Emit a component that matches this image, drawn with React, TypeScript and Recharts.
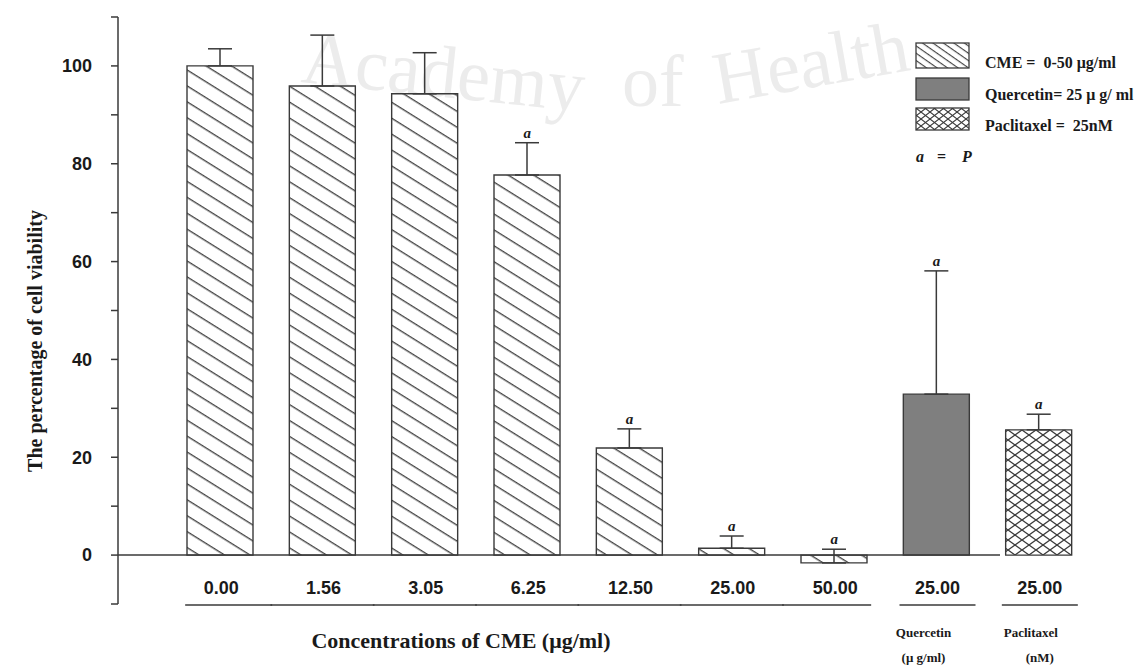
import React from 'react';
import {
  ComposedChart, Bar, Cell, ErrorBar, Line, LabelList, XAxis, YAxis, ReferenceLine, Legend,
} from 'recharts';

const CATEGORIES = ['0.00', '1.56', '3.05', '6.25', '12.50', '25.00', '50.00', '25.00', '25.00'];
const GROUPS = ['cme', 'cme', 'cme', 'cme', 'cme', 'cme', 'cme', 'quercetin', 'paclitaxel'];
const VIABILITY = [100, 95.9, 94.3, 77.7, 21.9, 1.4, -1.6, 32.9, 25.6];
const ERROR_UP = [3.5, 10.4, 8.4, 6.6, 3.9, 2.5, 2.8, 25.2, 3.2];
const SIGNIFICANT = [false, false, false, true, true, true, true, true, true];
const Y_TICKS = [-10, 0, 10, 20, 30, 40, 50, 60, 70, 80, 90, 100, 110];
const Y_LABELED = [0, 20, 40, 60, 80, 100];

const LEGEND_ITEMS = [
  { group: 'cme', text: 'CME =  0-50 μg/ml' },
  { group: 'quercetin', text: 'Quercetin= 25 μ g/ ml' },
  { group: 'paclitaxel', text: 'Paclitaxel =  25nM' },
];

const FILLS: Record<string, string> = {
  cme: 'url(#hatchCME)',
  quercetin: '#7f7f7f',
  paclitaxel: 'url(#crossPac)',
};
const LEGEND_FILLS: Record<string, string> = {
  cme: 'url(#hatchCMEsm)',
  quercetin: '#7f7f7f',
  paclitaxel: 'url(#crossPacSm)',
};

const data = CATEGORIES.map((c, i) => ({
  key: `k${i}`,
  label: c,
  group: GROUPS[i],
  value: VIABILITY[i],
  err: [0, ERROR_UP[i]],
  sig: SIGNIFICANT[i] ? VIABILITY[i] + ERROR_UP[i] : null,
}));

const SERIF = '"Liberation Serif", "Times New Roman", serif';
const SANS = '"Liberation Sans", Arial, sans-serif';
const INK = '#1a1a1a';
const LINE = '#3a3a3a';

function CatTick({ x, y, index }: { x?: number; y?: number; index?: number }) {
  const i = index ?? 0;
  const cx = x ?? 0;
  const cy = y ?? 0;
  const g = GROUPS[i];
  let x1 = cx - 52;
  let x2 = cx + 52;
  if (g === 'cme' && i === 0) x1 = cx - 35;
  if (g === 'cme' && i === 6) x2 = cx + 37;
  if (g !== 'cme') { x1 = cx - 37; x2 = cx + 39; }
  return (
    <g>
      <text x={cx + 1} y={cy - 10} textAnchor="middle" fill={INK}
        style={{ fontFamily: SANS, fontWeight: 700, fontSize: 18 }}>
        {CATEGORIES[i]}
      </text>
      <line x1={x1} x2={x2} y1={cy + 1} y2={cy + 1} stroke={LINE} strokeWidth={1.5} />
      {g === 'quercetin' && (
        <text x={cx - 13} y={cy + 33} textAnchor="middle" fill={INK}
          style={{ fontFamily: SERIF, fontWeight: 700, fontSize: 13 }}>
          <tspan x={cx - 13}>Quercetin</tspan>
          <tspan x={cx - 13} dy={25}>(μ g/ml)</tspan>
        </text>
      )}
      {g === 'paclitaxel' && (
        <text x={cx - 8} y={cy + 33} textAnchor="middle" fill={INK}
          style={{ fontFamily: SERIF, fontWeight: 700, fontSize: 13 }}>
          <tspan x={cx - 8}>Paclitaxel</tspan>
          <tspan x={cx + 1} dy={25}>(nM)</tspan>
        </text>
      )}
    </g>
  );
}

const renderSig = (props: { x?: number | string; y?: number | string; value?: unknown }) => {
  if (props.value === null || props.value === undefined) return null;
  return (
    <text x={Number(props.x)} y={Number(props.y) - 5} textAnchor="middle" fill={INK}
      style={{ fontFamily: SERIF, fontStyle: 'italic', fontWeight: 700, fontSize: 15 }}>
      a
    </text>
  );
};

function LegendBox() {
  const boxY = [8, 43, 73];
  const boxH = [25, 22, 22];
  const textY = [33, 65, 96];
  const italic = { fontFamily: SERIF, fontStyle: 'italic' as const, fontWeight: 700, fontSize: 16 };
  return (
    <svg width={229} height={135} style={{ display: 'block' }}>
      {LEGEND_ITEMS.map((it, i) => (
        <g key={it.group}>
          <rect x={4} y={boxY[i]} width={53} height={boxH[i]} fill={LEGEND_FILLS[it.group]}
            stroke={LINE} strokeWidth={1.3} />
          <text x={73} y={textY[i]} fill={INK} xmlSpace="preserve"
            style={{ fontFamily: SERIF, fontWeight: 700, fontSize: 16, whiteSpace: 'pre' }}>
            {it.text}
          </text>
        </g>
      ))}
      <text y={127} fill={INK} style={italic}>
        <tspan x={4}>a</tspan>
        <tspan x={25} style={{ fontStyle: 'normal' }}>=</tspan>
        <tspan x={50}>P</tspan>
      </text>
    </svg>
  );
}

export default function App() {
  const wm = { fontFamily: SERIF, fontSize: 74 };
  return (
    <div style={{ position: 'absolute', left: 0, top: 0, width: 1141, height: 668, background: '#fff' }}>
      <svg width={1141} height={668} style={{ position: 'absolute', left: 0, top: 0 }}>
        <defs>
          <pattern id="hatchCME" patternUnits="userSpaceOnUse" width={10} height={13.5}
            patternTransform="rotate(32)">
            <line x1={0} x2={10} y1={0.7} y2={0.7} stroke={LINE} strokeWidth={1.3} />
          </pattern>
          <pattern id="hatchCMEsm" patternUnits="userSpaceOnUse" width={10} height={6}
            patternTransform="rotate(35)">
            <line x1={0} x2={10} y1={0.6} y2={0.6} stroke={LINE} strokeWidth={1.1} />
          </pattern>
          <pattern id="crossPac" patternUnits="userSpaceOnUse" width={14} height={10}>
            <line x1={0} y1={0} x2={14} y2={10} stroke={LINE} strokeWidth={1.3} />
            <line x1={0} y1={10} x2={14} y2={0} stroke={LINE} strokeWidth={1.3} />
          </pattern>
          <pattern id="crossPacSm" patternUnits="userSpaceOnUse" width={9} height={7}>
            <line x1={0} y1={0} x2={9} y2={7} stroke={LINE} strokeWidth={1.1} />
            <line x1={0} y1={7} x2={9} y2={0} stroke={LINE} strokeWidth={1.1} />
          </pattern>
        </defs>
        <text x={300} y={82} fill="#ececec" style={wm} transform="rotate(6 300 82)">Academy</text>
        <text x={622} y={106} fill="#ececec" style={wm}>of</text>
        <text x={718} y={104} fill="#ececec" style={wm} transform="rotate(-10 718 104)">Health</text>
      </svg>
      <div style={{ position: 'absolute', left: 0, top: 0 }}>
        <ComposedChart width={1141} height={668} data={data}
          margin={{ top: 17, right: 51, bottom: 0, left: 0 }}>
          <XAxis dataKey="key" height={64} padding={{ left: 51, right: 0 }}
            axisLine={false} tickLine={false} tickSize={0} tickMargin={0} interval={0}
            tick={<CatTick />}
            label={{
              content: () => (
                <text x={461} y={648} textAnchor="middle" fill={INK}
                  style={{ fontFamily: SERIF, fontWeight: 700, fontSize: 22 }}>
                  Concentrations of CME (μg/ml)
                </text>
              ),
            }}
          />
          <YAxis type="number" domain={[-10, 110]} ticks={Y_TICKS} interval={0} width={118}
            allowDataOverflow
            tickFormatter={(v: number) => (Y_LABELED.includes(v) ? String(v) : '')}
            tickSize={7} tickMargin={19}
            axisLine={{ stroke: LINE, strokeWidth: 1.5 }}
            tickLine={{ stroke: LINE, strokeWidth: 1.5 }}
            tick={{ fill: INK, fontFamily: SANS, fontWeight: 700, fontSize: 18 }}
            label={{
              content: () => (
                <text x={0} y={0} transform="translate(42 341) rotate(-90)" textAnchor="middle" fill={INK}
                  style={{ fontFamily: SERIF, fontWeight: 700, fontSize: 20 }}>
                  The percentage of cell viability
                </text>
              ),
            }}
          />
          <ReferenceLine y={0} stroke={LINE} strokeWidth={1.5}
            shape={(p: { x1?: number; y1?: number; x2?: number; y2?: number }) => (
              <line x1={p.x1} y1={p.y1} x2={(p.x2 ?? 0) - 90} y2={p.y2} stroke={LINE} strokeWidth={1.5} />
            )}
          />
          <Bar dataKey="value" barSize={66} stroke={LINE} strokeWidth={1.4} isAnimationActive={false}>
            {data.map((d) => (
              <Cell key={d.key} fill={FILLS[d.group]} />
            ))}
            <ErrorBar dataKey="err" direction="y" width={12} stroke={LINE} strokeWidth={1.5} />
          </Bar>
          <Line dataKey="sig" stroke="none" dot={false} activeDot={false} isAnimationActive={false}
            connectNulls={false}>
            <LabelList dataKey="sig" content={renderSig} />
          </Line>
          <Legend layout="vertical" align="center" verticalAlign="middle" content={<LegendBox />}
            wrapperStyle={{ position: 'absolute', left: 912, top: 35, width: 229 }} />
        </ComposedChart>
      </div>
    </div>
  );
}
